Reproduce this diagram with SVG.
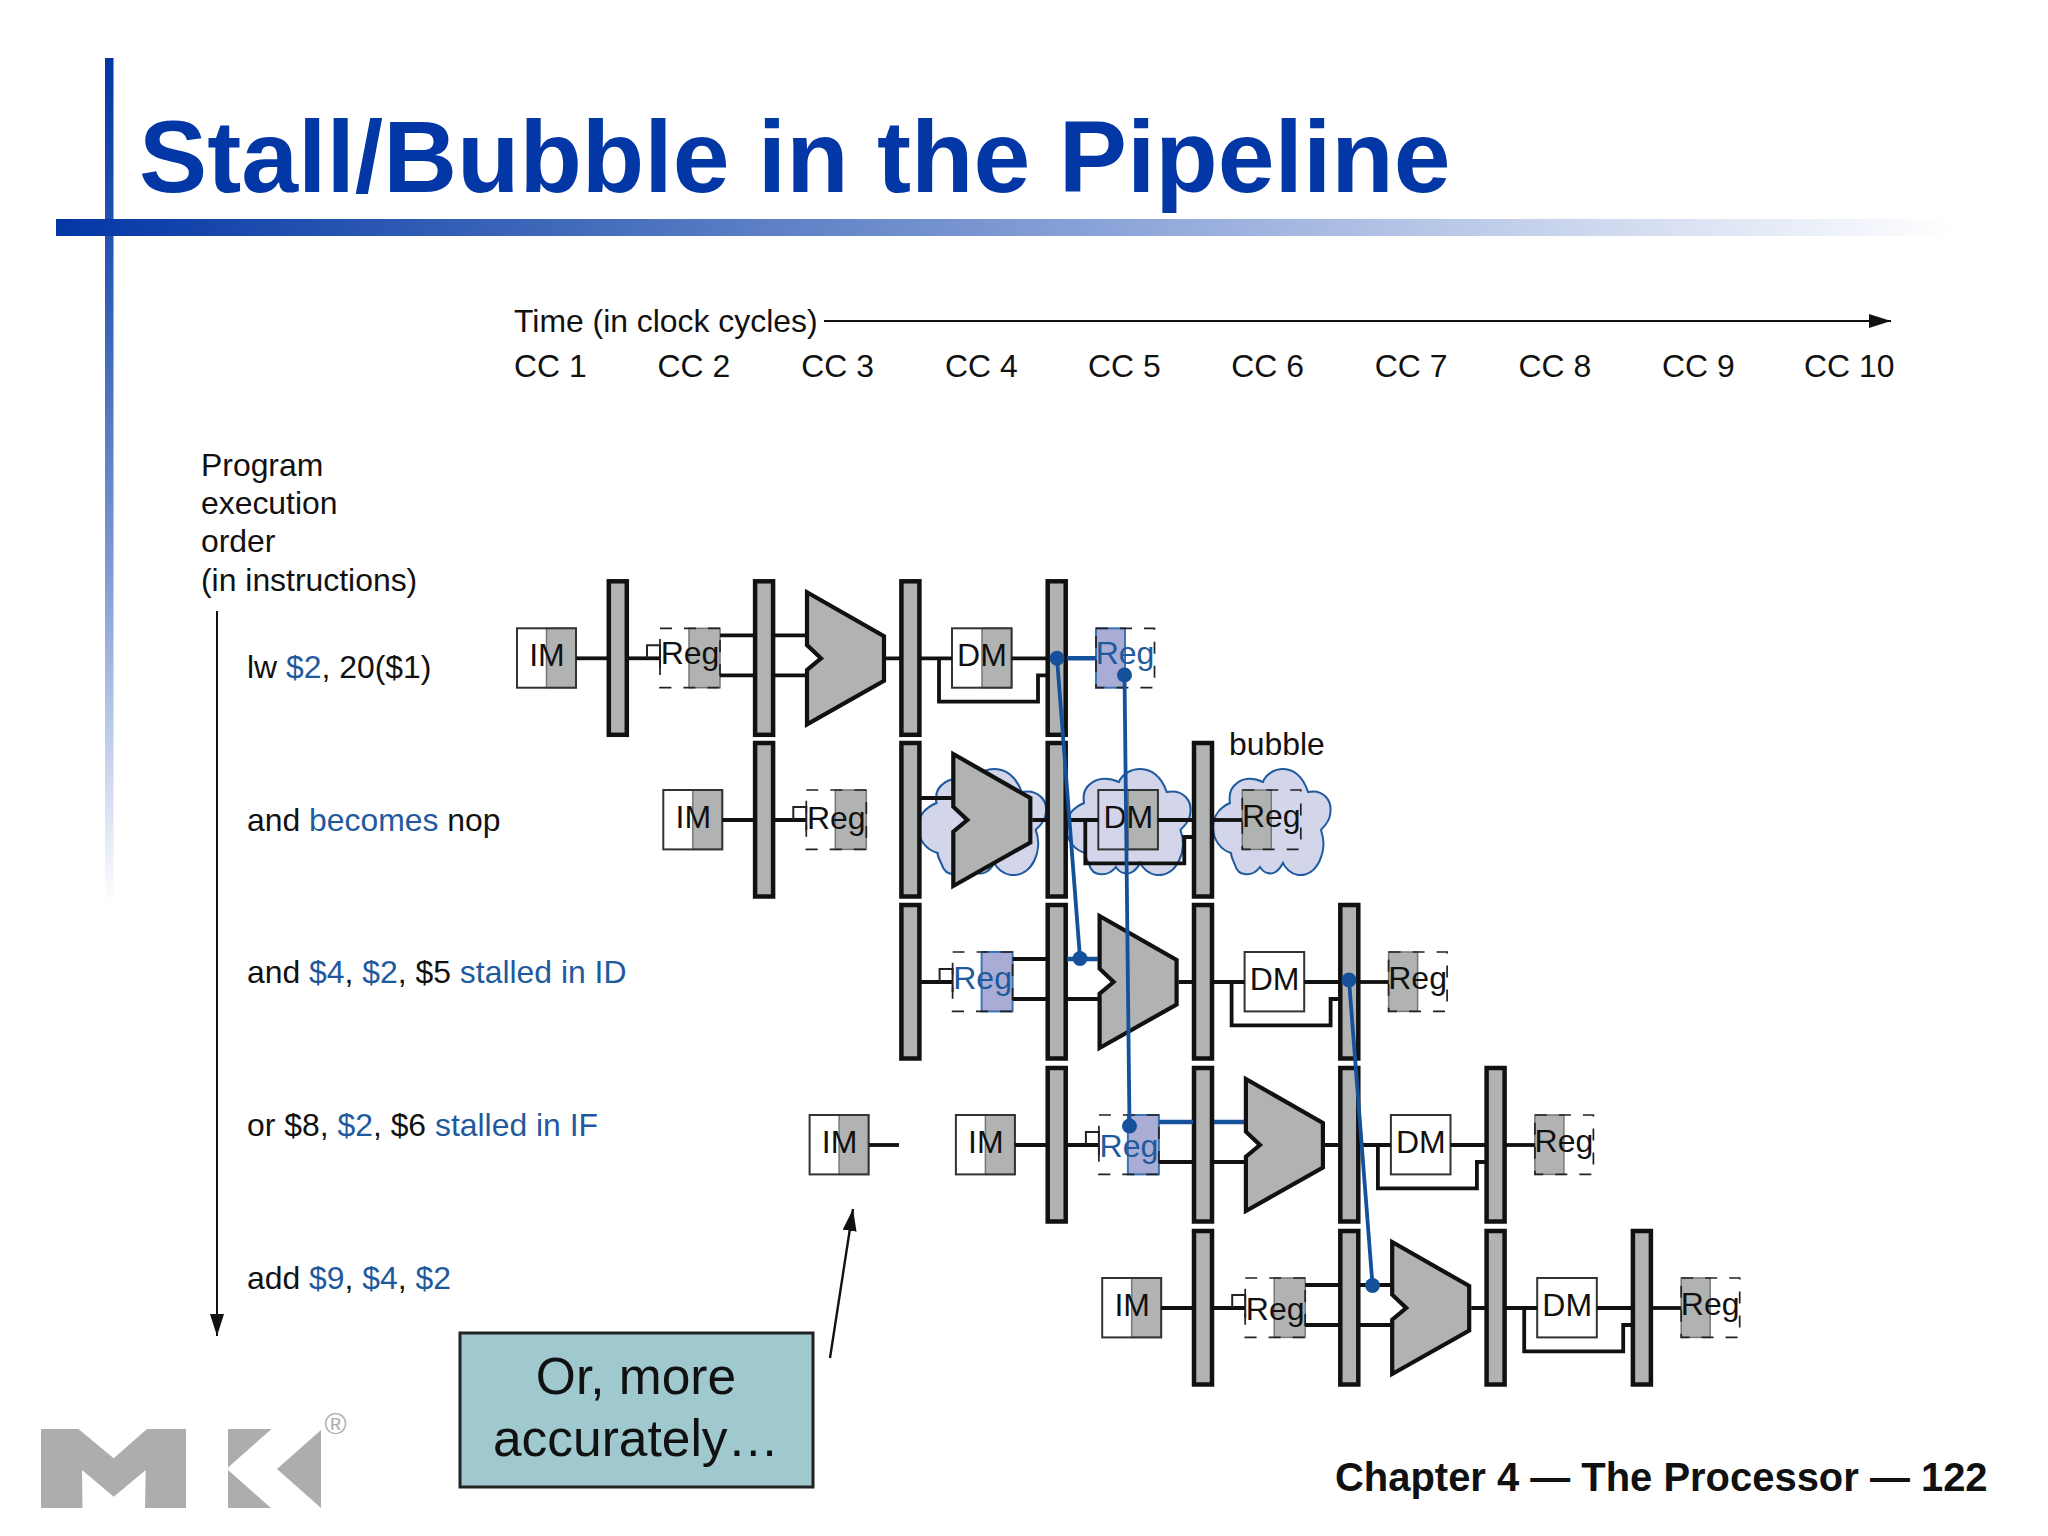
<svg xmlns="http://www.w3.org/2000/svg" width="2048" height="1536" viewBox="0 0 2048 1536">
<style>
text{font-family:"Liberation Sans",Arial,sans-serif;fill:#111}
.lbl{font-size:31.9px}
.b{fill:#1f5a9e}
.u{font-size:32px;text-anchor:middle}
.ub{font-size:32px;text-anchor:middle;fill:#1f5a9e}
.box{fill:none;stroke:#333;stroke-width:2}
.dash{fill:none;stroke:#222;stroke-width:1.7;stroke-dasharray:12 12}
.white{fill:#fff}
.gray{fill:#b1b3b3;stroke:#777;stroke-width:1.5}
.blue{fill:#a9acd4;stroke:#3b74b5;stroke-width:2}
.wire{fill:none;stroke:#111;stroke-width:3.8}
.thin{fill:none;stroke:#222;stroke-width:2}
.fwd{fill:none;stroke:#15509b;stroke-width:3.8}
.dot{fill:#15509b}
.cloud{fill:#d3d6ea;stroke:#1f5b9e;stroke-width:2}
.logo{fill:#adadad}
</style>
<defs>
<linearGradient id="gv" x1="0" y1="0" x2="0" y2="1"><stop offset="0" stop-color="#0437a6"/><stop offset="0.25" stop-color="#2a58b4"/><stop offset="0.6" stop-color="#7f9ad4"/><stop offset="1" stop-color="#fff"/></linearGradient>
<linearGradient id="gh" x1="0" y1="0" x2="1" y2="0"><stop offset="0" stop-color="#0437a6"/><stop offset="0.25" stop-color="#3c66b8"/><stop offset="0.55" stop-color="#8aa3d8"/><stop offset="1" stop-color="#fff"/></linearGradient>
<marker id="arr" markerUnits="userSpaceOnUse" markerWidth="24" markerHeight="14" refX="22" refY="7" orient="auto"><path d="M0,0L22,7L0,14Z" fill="#111"/></marker>
<rect id="bar" x="-9" y="-77" width="18" height="153.5" fill="#b1b3b3" stroke="#111" stroke-width="4.5"/>
<polygon id="alu" points="1,-66 78,-22 78,22.5 1,66 1,11.7 15,0 1,-13.3" fill="#b1b3b3" stroke="#111" stroke-width="4.2"/>
<path id="cl" class="cloud" d="M17,38C14,20 30,8 50,17C55,2 85,-6 95,27C110,24 120,35 117,50C116,58 110,62 108,65C115,85 105,112 85,110C78,109 72,103 70,98C66,106 60,110 55,108C52,108 49,105 47,102C40,112 25,112 22,100C20,95 18,92 18,88C8,85 0,75 0,62C0,50 8,42 17,38Z"/>
<path id="w-if" class="wire" d="M59,0H91"/>
<g id="w-idin"><path class="wire" d="M111,0H143"/><path class="thin" d="M130,0V-13H143V10"/></g>
<path id="w-idout" class="wire" d="M203,-23H238M257,-23H289M203,17H238M257,17H289"/>
<path id="w-ex" class="wire" d="M369,0H383M403,0H435"/>
<path id="w-mem" class="wire" d="M494.6,0H530M422,0V43.4H521V17H530"/>
<path id="w-wb" class="wire" d="M550,0H579"/>
</defs>
<rect width="2048" height="1536" fill="#fff"/>
<g id="frame">
<rect x="105" y="58" width="8.5" height="850" fill="url(#gv)"/>
<rect x="56" y="219" width="1900" height="17" fill="url(#gh)"/>
</g>
<text id="title" x="139" y="192" font-size="102.2" font-weight="700" style="fill:#0437a6">Stall/Bubble in the Pipeline</text>
<g id="time-axis">
<text class="lbl" x="514" y="332">Time (in clock cycles)</text>
<text class="lbl" x="514" y="376.5">CC 1</text><text class="lbl" x="657.5" y="376.5">CC 2</text><text class="lbl" x="801.3" y="376.5">CC 3</text><text class="lbl" x="945" y="376.5">CC 4</text><text class="lbl" x="1088" y="376.5">CC 5</text><text class="lbl" x="1231.3" y="376.5">CC 6</text><text class="lbl" x="1374.8" y="376.5">CC 7</text><text class="lbl" x="1518.5" y="376.5">CC 8</text><text class="lbl" x="1662" y="376.5">CC 9</text><text class="lbl" x="1804" y="376.5">CC 10</text>
</g>
<g id="order-labels">
<text class="lbl" x="201" y="476">Program</text><text class="lbl" x="201" y="514">execution</text><text class="lbl" x="201" y="552">order</text><text class="lbl" x="201" y="590.5">(in instructions)</text>
<text class="lbl" x="247" y="677.5">lw <tspan class="b">$2</tspan>, 20($1)</text>
<text class="lbl" x="247" y="830.5">and <tspan class="b">becomes</tspan> nop</text>
<text class="lbl" x="247" y="983">and <tspan class="b">$4</tspan>, <tspan class="b">$2</tspan>, $5 <tspan class="b">stalled in ID</tspan></text>
<text class="lbl" x="247" y="1136">or $8, <tspan class="b">$2</tspan>, $6 <tspan class="b">stalled in IF</tspan></text>
<text class="lbl" x="247" y="1289">add <tspan class="b">$9</tspan>, <tspan class="b">$4</tspan>, <tspan class="b">$2</tspan></text>
</g>
<g id="bubble-clouds">
<use href="#cl" transform="translate(918,765) scale(1.09,1)"/>
<use href="#cl" transform="translate(1066,765) scale(1.06,1)"/>
<use href="#cl" transform="translate(1213,765)"/>
</g>
<text id="bubble-label" class="lbl" x="1229" y="755">bubble</text>
<g id="row1" transform="translate(517,658.3)">
<g id="r1-im"><rect class="white" x="0" y="-30" width="59" height="59.4"/><rect class="gray" x="29.5" y="-30" width="29.5" height="59.4"/><rect class="box" x="0" y="-30" width="59" height="59.4"/><text class="u" x="30" y="8">IM</text></g>
<use id="r1-b1" href="#bar" x="100.8"/>
<g id="r1-reg"><rect class="gray" x="172" y="-30" width="31" height="59.4"/><rect class="dash" x="143" y="-30" width="60" height="59.4"/><text class="u" x="173" y="6">Reg</text></g>
<use id="r1-b2" href="#bar" x="247.1"/>
<use id="r1-alu" href="#alu" x="289"/>
<use id="r1-b3" href="#bar" x="393.4"/>
<g id="r1-dm"><rect class="gray" x="465" y="-30" width="29.6" height="59.4"/><rect class="box" x="435" y="-30" width="59.6" height="59.4"/><text class="u" x="465" y="8">DM</text></g>
<use id="r1-b4" href="#bar" x="539.7"/>
<g id="r1-wb"><rect class="blue" x="579" y="-30" width="29" height="59.4"/><rect class="dash" x="579" y="-30" width="58.5" height="59.4"/><text class="ub" x="608" y="6">Reg</text></g>
</g>
<g id="row2" transform="translate(663.3,820)">
<g id="r2-im"><rect class="white" x="0" y="-30" width="59" height="59.4"/><rect class="gray" x="29.5" y="-30" width="29.5" height="59.4"/><rect class="box" x="0" y="-30" width="59" height="59.4"/><text class="u" x="30" y="8">IM</text></g>
<use id="r2-b1" href="#bar" x="100.8"/>
<g id="r2-reg"><rect class="gray" x="172" y="-30" width="31" height="59.4"/><rect class="dash" x="143" y="-30" width="60" height="59.4"/><text class="u" x="173" y="9">Reg</text></g>
<use id="r2-b2" href="#bar" x="247.1"/>
<use id="r2-alu" href="#alu" x="289"/>
<use id="r2-b3" href="#bar" x="393.4"/>
<g id="r2-dm"><rect class="gray" x="465" y="-30" width="29.6" height="59.4"/><rect class="box" x="435" y="-30" width="59.6" height="59.4"/><text class="u" x="465" y="8">DM</text></g>
<use id="r2-b4" href="#bar" x="539.7"/>
<g id="r2-wb"><rect class="gray" x="579" y="-30" width="29" height="59.4"/><rect class="dash" x="579" y="-30" width="58.5" height="59.4"/><text class="u" x="608" y="7">Reg</text></g>
</g>
<g id="row3" transform="translate(809.6,982)">
<use id="r3-b1" href="#bar" x="100.8"/>
<g id="r3-reg"><rect class="blue" x="172" y="-30" width="31" height="59.4"/><rect class="dash" x="143" y="-30" width="60" height="59.4"/><text class="ub" x="173" y="6.5">Reg</text></g>
<use id="r3-b2" href="#bar" x="247.1"/>
<use id="r3-alu" href="#alu" x="289"/>
<use id="r3-b3" href="#bar" x="393.4"/>
<g id="r3-dm"><rect class="white" x="435" y="-30" width="59.6" height="59.4"/><rect class="box" x="435" y="-30" width="59.6" height="59.4"/><text class="u" x="465" y="8">DM</text></g>
<use id="r3-b4" href="#bar" x="539.7"/>
<g id="r3-wb"><rect class="gray" x="579" y="-30" width="29" height="59.4"/><rect class="dash" x="579" y="-30" width="58.5" height="59.4"/><text class="u" x="608" y="7">Reg</text></g>
</g>
<g id="row4-stalled-im" transform="translate(809.6,1145)">
<rect class="white" x="0" y="-30" width="59" height="59.4"/><rect class="gray" x="29.5" y="-30" width="29.5" height="59.4"/><rect class="box" x="0" y="-30" width="59" height="59.4"/><text class="u" x="30" y="8">IM</text>
</g>
<g id="row4" transform="translate(955.9,1145)">
<g id="r4-im"><rect class="white" x="0" y="-30" width="59" height="59.4"/><rect class="gray" x="29.5" y="-30" width="29.5" height="59.4"/><rect class="box" x="0" y="-30" width="59" height="59.4"/><text class="u" x="30" y="8">IM</text></g>
<use id="r4-b1" href="#bar" x="100.8"/>
<g id="r4-reg"><rect class="blue" x="172" y="-30" width="31" height="59.4"/><rect class="dash" x="143" y="-30" width="60" height="59.4"/><text class="ub" x="173" y="12">Reg</text></g>
<use id="r4-b2" href="#bar" x="247.1"/>
<use id="r4-alu" href="#alu" x="289"/>
<use id="r4-b3" href="#bar" x="393.4"/>
<g id="r4-dm"><rect class="white" x="435" y="-30" width="59.6" height="59.4"/><rect class="box" x="435" y="-30" width="59.6" height="59.4"/><text class="u" x="465" y="8">DM</text></g>
<use id="r4-b4" href="#bar" x="539.7"/>
<g id="r4-wb"><rect class="gray" x="579" y="-30" width="29" height="59.4"/><rect class="dash" x="579" y="-30" width="58.5" height="59.4"/><text class="u" x="608" y="7">Reg</text></g>
</g>
<g id="row5" transform="translate(1102.2,1308)">
<g id="r5-im"><rect class="white" x="0" y="-30" width="59" height="59.4"/><rect class="gray" x="29.5" y="-30" width="29.5" height="59.4"/><rect class="box" x="0" y="-30" width="59" height="59.4"/><text class="u" x="30" y="8">IM</text></g>
<use id="r5-b1" href="#bar" x="100.8"/>
<g id="r5-reg"><rect class="gray" x="172" y="-30" width="31" height="59.4"/><rect class="dash" x="143" y="-30" width="60" height="59.4"/><text class="u" x="173" y="12">Reg</text></g>
<use id="r5-b2" href="#bar" x="247.1"/>
<use id="r5-alu" href="#alu" x="289"/>
<use id="r5-b3" href="#bar" x="393.4"/>
<g id="r5-dm"><rect class="white" x="435" y="-30" width="59.6" height="59.4"/><rect class="box" x="435" y="-30" width="59.6" height="59.4"/><text class="u" x="465" y="8">DM</text></g>
<use id="r5-b4" href="#bar" x="539.7"/>
<g id="r5-wb"><rect class="gray" x="579" y="-30" width="29" height="59.4"/><rect class="dash" x="579" y="-30" width="58.5" height="59.4"/><text class="u" x="608" y="7">Reg</text></g>
</g>
<g id="callout">
<rect x="460" y="1333" width="353" height="154" fill="#9fc8cf" stroke="#222" stroke-width="3"/>
<text x="636" y="1394" font-size="51.5" text-anchor="middle">Or, more</text>
<text x="636" y="1456" font-size="51.5" text-anchor="middle">accurately…</text>
</g>
<g id="logo">
<polygon class="logo" points="41,1429 78.5,1429 113.7,1458.3 147,1429 186,1429 186,1508 145,1508 145.7,1470 113.7,1496.7 82,1470 82.5,1508 41,1508"/>
<polygon class="logo" points="228,1429 271.5,1429 228,1467.5"/>
<polygon class="logo" points="228,1470 271,1508 228,1508"/>
<polygon class="logo" points="321,1430 321,1508 277,1469"/>
<text x="335.5" y="1434" font-size="30" text-anchor="middle" style="fill:#adadad">®</text>
</g>
<text id="footer" x="1335" y="1491" font-size="39.95" font-weight="700">Chapter 4 — The Processor — 122</text>
<g id="connectors">
<line class="wire" x1="824" y1="321" x2="1891" y2="321" style="stroke-width:2" marker-end="url(#arr)"/>
<line class="wire" x1="217" y1="611" x2="217" y2="1336" style="stroke-width:2" marker-end="url(#arr)"/>
<line class="wire" x1="830" y1="1358" x2="853" y2="1209" style="stroke-width:2.4" marker-end="url(#arr)"/>
<g transform="translate(517,658.3)"><use href="#w-if"/><use href="#w-idin"/><use href="#w-idout"/><use href="#w-ex"/><use href="#w-mem"/></g>
<g transform="translate(663.3,820)"><use href="#w-if"/><use href="#w-idin"/><path class="wire" d="M257,-22H289"/><use href="#w-ex"/><use href="#w-mem"/><use href="#w-wb"/></g>
<g transform="translate(809.6,982)"><use href="#w-idin"/><path class="wire" d="M203,-23H238M203,17H238M257,17H289"/><use href="#w-ex"/><use href="#w-mem"/><use href="#w-wb"/></g>
<path class="wire" d="M869,1145H899"/>
<g transform="translate(955.9,1145)"><use href="#w-if"/><use href="#w-idin"/><path class="wire" d="M203,17H238M257,17H289"/><use href="#w-ex"/><use href="#w-mem"/><use href="#w-wb"/></g>
<g transform="translate(1102.2,1308)"><use href="#w-if"/><use href="#w-idin"/><use href="#w-idout"/><use href="#w-ex"/><use href="#w-mem"/><use href="#w-wb"/></g>
<path class="fwd" style="stroke-width:4.5" d="M1067,658.3H1096M1159,1122H1193M1214,1122H1244M1067,959H1098"/>
<path class="fwd" d="M1057,658L1080,958M1124.5,675L1129.5,1126M1349,980L1372.5,1285"/>
<circle class="dot" cx="1057" cy="658.3" r="7.5"/>
<circle class="dot" cx="1124.5" cy="675" r="7.5"/>
<circle class="dot" cx="1080" cy="958.5" r="7.5"/>
<circle class="dot" cx="1129.5" cy="1126" r="7.5"/>
<circle class="dot" cx="1349" cy="980" r="7.5"/>
<circle class="dot" cx="1372.5" cy="1285.5" r="7.5"/>
</g>
</svg>
